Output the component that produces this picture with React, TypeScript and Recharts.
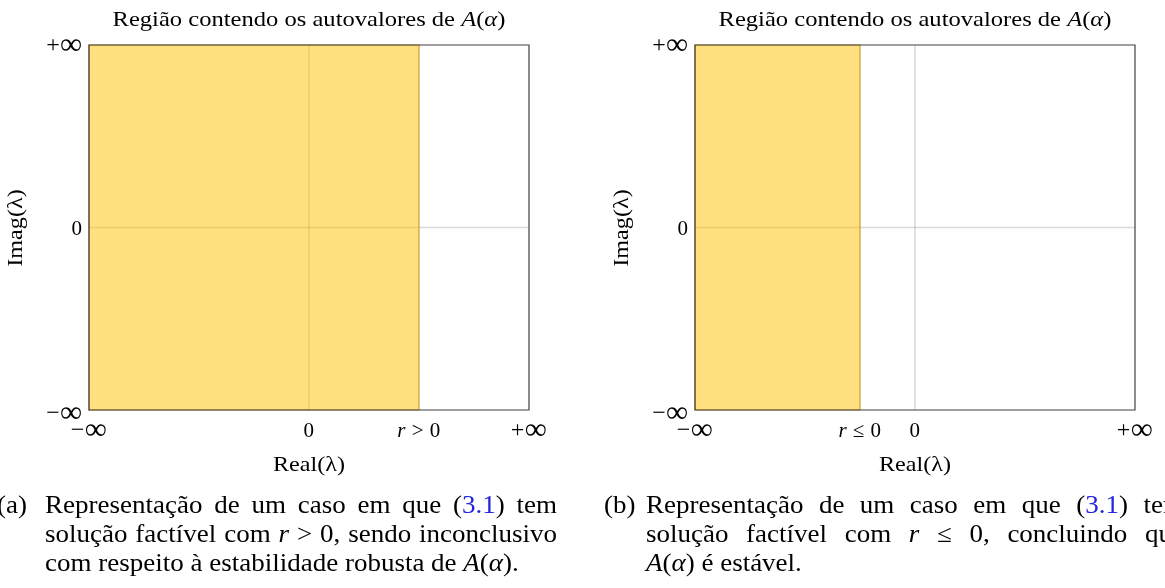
import React from "react";
import { ComposedChart, XAxis, YAxis, ReferenceArea, ReferenceLine } from "recharts";

const chartTitle = "Região contendo os autovalores de ";
const xAxisTitle = "Real(λ)";
const yAxisTitle = "Imag(λ)";

const axisDomain = [-4, 4];
const yTicks = [-4, 0, 4];
const yTickLabels = ["−∞", "0", "+∞"];

const xTicksA = [-4, 0, 2, 4];
const xTickLabelsA = ["−∞", "0", "r > 0", "+∞"];
const regionA = [-4, 2];

const xTicksB = [-4, -1, 0, 4];
const xTickLabelsB = ["−∞", "r ≤ 0", "0", "+∞"];
const regionB = [-4, -1];

const SERIF = "'Liberation Serif', 'DejaVu Serif', serif";
const FILL = "#FFC000";
const EDGE = "#c8961e";
const GRID = "#d9d9d9";
const FRAME = "#404040";
const LINK = "#2323dc";

function renderLabel(label: string) {
  const parts: React.ReactNode[] = [];
  let rest = label;
  if (rest.startsWith("r ")) {
    parts.push(
      <tspan key="r" fontStyle="italic">
        r
      </tspan>
    );
    rest = rest.slice(1);
  }
  if (rest.endsWith("∞")) {
    parts.push(
      <tspan key="s" fontSize={24}>
        {rest.slice(0, -1)}
      </tspan>
    );
    parts.push(
      <tspan key="inf" fontSize={31} dy={2}>
        ∞
      </tspan>
    );
  } else {
    parts.push(<tspan key="s">{rest}</tspan>);
  }
  return parts;
}

function makeXTick(ticks: number[], labels: string[]) {
  return (props: any) => {
    const { x, y, payload } = props;
    const i = ticks.indexOf(payload.value);
    return (
      <text x={x} y={y} textAnchor="middle" dy="0.72em" fontFamily={SERIF} fontSize={21} fill="#000" letterSpacing={0.5}>
        {renderLabel(labels[i] ?? "")}
      </text>
    );
  };
}

function YTick(props: any) {
  const { x, y, payload } = props;
  const i = yTicks.indexOf(payload.value);
  const shift = payload.value === -4 ? 3 : 0;
  return (
    <text x={x} y={y + shift} textAnchor="end" dy="0.35em" fontFamily={SERIF} fontSize={21} fill="#000">
      {renderLabel(yTickLabels[i])}
    </text>
  );
}

const textBase: React.CSSProperties = {
  position: "absolute",
  textAlign: "center",
  fontFamily: SERIF,
  fontSize: 21,
  lineHeight: "26px",
  whiteSpace: "nowrap",
  color: "#000",
};

function Panel({ left, ticks, labels, region }: { left: number; ticks: number[]; labels: string[]; region: number[] }) {
  return (
    <div style={{ position: "absolute", left, top: 0, width: 560, height: 470 }}>
      <ComposedChart width={560} height={470} margin={{ top: 45, right: 31, bottom: 0, left: 0 }}>
        <XAxis
          type="number"
          dataKey="x"
          domain={axisDomain}
          ticks={ticks}
          interval={0}
          allowDataOverflow
          axisLine={false}
          tickLine={false}
          tickSize={0}
          tickMargin={12}
          height={60}
          tick={makeXTick(ticks, labels)}
        />
        <YAxis
          type="number"
          dataKey="y"
          domain={axisDomain}
          ticks={yTicks}
          interval={0}
          allowDataOverflow
          axisLine={false}
          tickLine={false}
          tickSize={0}
          tickMargin={7}
          width={89}
          tick={YTick}
        />
        <ReferenceLine x={0} stroke={GRID} strokeWidth={1.5} zIndex={50} style={{ mixBlendMode: "multiply" }} />
        <ReferenceLine y={0} stroke={GRID} strokeWidth={1.5} zIndex={50} style={{ mixBlendMode: "multiply" }} />
        <ReferenceArea
          x1={region[0]}
          x2={region[1]}
          y1={axisDomain[0]}
          y2={axisDomain[1]}
          fill={FILL}
          fillOpacity={0.5}
          stroke={EDGE}
          strokeWidth={1.2}
          strokeOpacity={0.9}
          zIndex={150}
        />
        <ReferenceArea
          x1={axisDomain[0]}
          x2={axisDomain[1]}
          y1={axisDomain[0]}
          y2={axisDomain[1]}
          fill="none"
          fillOpacity={0}
          stroke={FRAME}
          strokeWidth={1.2}
          zIndex={160}
        />
      </ComposedChart>
      <div style={{ ...textBase, left: 89, width: 440, top: 6, transform: "scaleX(1.17)" }}>
        {chartTitle}
        <i>A</i>(<i>α</i>)
      </div>
      <div style={{ ...textBase, left: 89, width: 440, top: 451, transform: "scaleX(1.15)" }}>{xAxisTitle}</div>
      <div
        style={{
          ...textBase,
          left: 15 - 60,
          width: 120,
          top: 228 - 13,
          height: 26,
          transform: "rotate(-90deg) scaleX(1.15)",
        }}
      >
        {yAxisTitle}
      </div>
    </div>
  );
}

const CAP_SCALE = 1.08;
const lineStyle: React.CSSProperties = { height: 29, lineHeight: "29px", whiteSpace: "nowrap" };
const justified: React.CSSProperties = { ...lineStyle, textAlign: "justify", textAlignLast: "justify" };
const capFont: React.CSSProperties = {
  position: "absolute",
  top: 490,
  fontFamily: SERIF,
  fontSize: 25,
  color: "#000",
  transform: `scaleX(${CAP_SCALE})`,
  transformOrigin: "0 0",
};

function Caption({ tagLeft, blockLeft, tag, width, lines }: { tagLeft: number; blockLeft: number; tag: string; width: number; lines: React.ReactNode[] }) {
  return (
    <>
      <div style={{ ...capFont, left: tagLeft, ...lineStyle }}>{tag}</div>
      <div style={{ ...capFont, left: blockLeft, width: width / CAP_SCALE }}>
        {lines.map((l, i) => (
          <div key={i} style={i < lines.length - 1 ? justified : lineStyle}>
            {l}
          </div>
        ))}
      </div>
    </>
  );
}

const ref = (
  <>
    (<span style={{ color: LINK }}>3.1</span>)
  </>
);

export default function App() {
  return (
    <div style={{ position: "absolute", left: 0, top: 0, width: 1165, height: 588, background: "#fff", overflow: "hidden" }}>
      <Panel left={0} ticks={xTicksA} labels={xTickLabelsA} region={regionA} />
      <Panel left={606} ticks={xTicksB} labels={xTickLabelsB} region={regionB} />
      <Caption
        tagLeft={-3}
        blockLeft={45}
        tag="(a)"
        width={512}
        lines={[
          <>Representação de um caso em que {ref} tem</>,
          <>
            solução factível com <i>r</i> &gt; 0, sendo inconclusivo
          </>,
          <>
            com respeito à estabilidade robusta de <i>A</i>(<i>α</i>).
          </>,
        ]}
      />
      <Caption
        tagLeft={604}
        blockLeft={646}
        tag="(b)"
        width={538}
        lines={[
          <>Representação de um caso em que {ref} tem</>,
          <>
            solução factível com <i>r</i> ≤ 0, concluindo que
          </>,
          <>
            <i>A</i>(<i>α</i>) é estável.
          </>,
        ]}
      />
    </div>
  );
}
